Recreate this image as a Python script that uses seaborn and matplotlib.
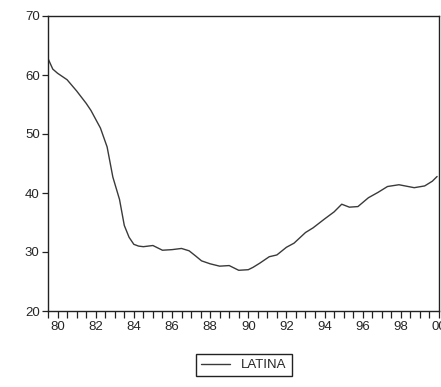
import matplotlib
matplotlib.use("Agg")
import matplotlib.pyplot as plt
import seaborn as sns
import pandas as pd
import numpy as np
from matplotlib.ticker import MultipleLocator

years = [1979.50, 1979.75, 1980.00, 1980.50, 1981.00, 1981.50, 1981.75, 1982.25,
         1982.60, 1982.90, 1983.25, 1983.50, 1983.75, 1984.00, 1984.25, 1984.50,
         1985.00, 1985.50, 1986.00, 1986.50, 1986.90, 1987.25, 1987.55, 1988.00,
         1988.50, 1989.00, 1989.50, 1990.00, 1990.25, 1990.60, 1991.10, 1991.50,
         1992.00, 1992.40, 1993.00, 1993.40, 1994.00, 1994.50, 1994.90, 1995.30,
         1995.75, 1996.30, 1996.80, 1997.30, 1997.90, 1998.70, 1999.25, 1999.65,
         1999.90]
latina = [62.8, 61.0, 60.3, 59.2, 57.3, 55.2, 54.0, 51.0,
          47.8, 42.7, 38.9, 34.5, 32.5, 31.3, 31.0, 30.9,
          31.1, 30.3, 30.4, 30.6, 30.2, 29.3, 28.5, 28.0,
          27.6, 27.7, 26.9, 27.0, 27.4, 28.1, 29.2, 29.5,
          30.8, 31.5, 33.3, 34.1, 35.6, 36.8, 38.1, 37.6,
          37.7, 39.2, 40.1, 41.1, 41.4, 40.9, 41.2, 42.0,
          42.8]
tick_years = [1980, 1982, 1984, 1986, 1988, 1990, 1992, 1994, 1996, 1998, 2000]
tick_labels = ["80", "82", "84", "86", "88", "90", "92", "94", "96", "98", "00"]
y_ticks = [20, 30, 40, 50, 60, 70]

sns.set_style("ticks")
plt.rcParams['font.family'] = ['Liberation Sans', 'DejaVu Sans']

df = pd.DataFrame({"year": years, "LATINA": latina})

fig = plt.figure(figsize=(4.41, 3.87), dpi=100)
ax = fig.add_axes([48/441, 1-311/387, (439-48)/441, (311-16)/387])
sns.lineplot(data=df, x="year", y="LATINA", ax=ax, color="#3a3a3a",
             linewidth=1.0, label="LATINA", legend=False)

ax.set_xlim(1979.5, 2000.0)
ax.set_ylim(20, 70)
ax.set_xticks(tick_years)
ax.set_xticklabels(tick_labels, fontsize=9.5)
ax.xaxis.set_minor_locator(MultipleLocator(0.5))
ax.set_yticks(y_ticks)
ax.set_yticklabels([str(v) for v in y_ticks], fontsize=9.5)
ax.tick_params(axis='x', which='both', direction='out', length=5, width=0.9,
               pad=2, color='#222222')
ax.tick_params(axis='y', which='major', direction='out', length=4, width=0.9,
               pad=2, color='#222222')
ax.set_xlabel("")
ax.set_ylabel("")
for s in ax.spines.values():
    s.set_visible(True)
    s.set_linewidth(1.0)
    s.set_color('#222222')

handles, labels = ax.get_legend_handles_labels()
leg = fig.legend(handles, labels, loc='center', bbox_to_anchor=(244/441, 1-365/387),
                 frameon=True, fontsize=9.5, handlelength=2.2, borderpad=0.4,
                 fancybox=False, edgecolor='#222222', framealpha=1)
leg.get_frame().set_linewidth(1.0)

fig.savefig("out.png", dpi=100)
